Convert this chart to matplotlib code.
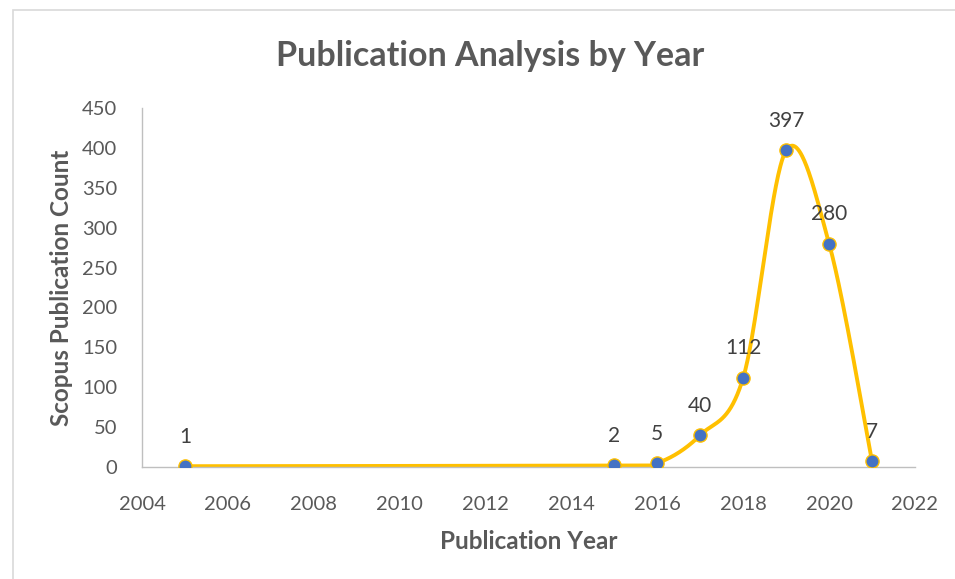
import matplotlib.pyplot as plt
import numpy as np
from matplotlib.patches import Rectangle

years = [2005, 2015, 2016, 2017, 2018, 2019, 2020, 2021]
counts = [1, 2, 5, 40, 112, 397, 280, 7]
x_ticks = list(range(2004, 2023, 2))
y_ticks = list(range(0, 451, 50))

LINE_COLOR = "#FFC000"
MARKER_COLOR = "#4472C4"
TEXT_GREY = "#595959"
LABEL_GREY = "#404040"

plt.rcParams["font.family"] = ["Lato", "DejaVu Sans"]


def smooth_curve(xs, ys, steps=60):
    # cubic Bezier segments with Catmull-Rom style tangents
    pts = np.column_stack([xs, ys]).astype(float)
    n = len(pts)
    out = []
    for i in range(n - 1):
        p0 = pts[max(i - 1, 0)]
        p1 = pts[i]
        p2 = pts[i + 1]
        p3 = pts[min(i + 2, n - 1)]
        c1 = p1 + (p2 - p0) / 6.0
        c2 = p2 - (p3 - p1) / 6.0
        t = np.linspace(0, 1, steps)[:, None]
        seg = ((1 - t) ** 3) * p1 + 3 * ((1 - t) ** 2) * t * c1 \
            + 3 * (1 - t) * (t ** 2) * c2 + (t ** 3) * p2
        out.append(seg if i == 0 else seg[1:])
    curve = np.vstack(out)
    return curve[:, 0], curve[:, 1]


fig = plt.figure(figsize=(9.55, 5.79), dpi=100)
ax = fig.add_axes([142 / 955, 1 - 467 / 579, (915 - 142) / 955, (467 - 108) / 579])

# light chart-area border
fig.patches.append(Rectangle((13 / 955, -0.1), 1.0, 1.1 - 10 / 579,
                             transform=fig.transFigure, fill=False,
                             edgecolor="#D9D9D9", linewidth=1.2))

sx, sy = smooth_curve(years, counts)
ax.plot(sx, sy, color=LINE_COLOR, linewidth=2.8, solid_capstyle="round", zorder=2)
ax.plot(years, counts, linestyle="none", marker="o", markersize=9.5,
        markerfacecolor=MARKER_COLOR, markeredgecolor=LINE_COLOR,
        markeredgewidth=1.0, zorder=3)

for x, y in zip(years, counts):
    ax.annotate(str(y), (x, y), xytext=(0, 21), textcoords="offset points",
                ha="center", va="center", fontsize=15, color=LABEL_GREY)

ax.set_xlim(2004, 2022)
ax.set_ylim(0, 450)
ax.set_xticks(x_ticks)
ax.set_yticks(y_ticks)
ax.tick_params(length=0, labelsize=14.5, colors=TEXT_GREY)
ax.tick_params(axis="x", pad=21)
ax.tick_params(axis="y", pad=18)

for side in ["top", "right"]:
    ax.spines[side].set_visible(False)
for side in ["left", "bottom"]:
    ax.spines[side].set_color("#BFBFBF")
    ax.spines[side].set_linewidth(1.0)

ax.set_xlabel("Publication Year", fontsize=17.5, fontweight="bold", color=TEXT_GREY, labelpad=12)
ax.set_ylabel("Scopus Publication Count", fontsize=17.5, fontweight="bold", color=TEXT_GREY, labelpad=6)
fig.text(490 / 955, 1 - 56 / 579, "Publication Analysis by Year", ha="center", va="center",
         fontsize=24.5, fontweight="bold", color=TEXT_GREY)

fig.savefig("out.png", dpi=100)
